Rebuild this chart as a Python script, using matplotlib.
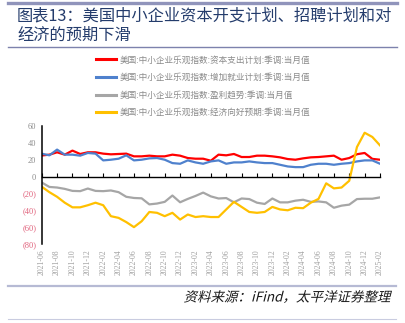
import matplotlib
matplotlib.use("Agg")
import matplotlib.pyplot as plt
from matplotlib.lines import Line2D
from matplotlib.textpath import TextPath
from matplotlib.patches import PathPatch
from matplotlib.font_manager import FontProperties
from matplotlib.transforms import Affine2D, IdentityTransform

plt.rcParams['font.family'] = ['Noto Sans CJK SC', 'DejaVu Sans']

# monthly dates, 2021-06 .. 2025-02
months = []
y, m = 2021, 6
while (y, m) <= (2025, 2):
    months.append('%d-%02d' % (y, m))
    m += 1
    if m > 12:
        y, m = y + 1, 1

capex = [25, 26, 28.8, 26, 30.8, 26.8, 28.8, 28.8, 27.2, 26.4, 26.8, 27.2, 24, 24, 24.8,
         24, 24, 26, 24.8, 22, 21.2, 21.2, 18.8, 26, 25.2, 26.8, 23.2, 23.2, 24.8, 24.8,
         24, 22.8, 20.8, 20, 21.6, 22.8, 23.2, 24, 24.8, 20, 22, 26.5, 28, 21, 20]
hiring = [27.2, 25.2, 32, 26, 26, 24.8, 28, 27.2, 19.2, 20, 21.2, 25.2, 19.2, 20, 21.6,
          22, 20, 16, 15.2, 19.2, 16.8, 15.2, 18, 19.2, 15.2, 16.8, 16.8, 18, 16.8, 16,
          16, 14, 12, 11.2, 11.2, 14, 15.2, 15.2, 14, 15.2, 16, 18, 19.2, 19.2, 15.2]
earnings = [-7, -12.3, -13, -14.6, -17, -17.3, -14.2, -17, -17.3, -16.5, -18.5, -24, -25.4,
            -25.8, -33, -32, -30, -22.5, -30.5, -26.5, -23, -19, -23.5, -26, -25.5, -30.5,
            -26, -26.7, -31, -32.5, -26, -30.6, -30.6, -28.6, -27.5, -30, -29.5, -30.6, -37,
            -34.5, -33.3, -26.7, -26.3, -26.3, -24.7]
economy = [-12, -18.5, -24, -31, -36.5, -36.5, -34, -31, -34, -47, -49, -54, -60, -53, -42,
           -43, -47, -43, -51, -45, -48, -47, -48, -48, -39, -30, -36, -42, -43, -42, -36,
           -39, -40, -37, -37.5, -31, -26.5, -8, -14, -13, -5, 35, 52, 47, 37]

names = ['美国:中小企业乐观指数:资本支出计划:季调:当月值',
         '美国:中小企业乐观指数:增加就业计划:季调:当月值',
         '美国:中小企业乐观指数:盈利趋势:季调:当月值',
         '美国:中小企业乐观指数:经济向好预期:季调:当月值']
colors = ['#ff0000', '#4f81cd', '#a6a6a6', '#ffc000']
yticks = [60, 40, 20, 0, -20, -40, -60, -80]

W, H = 406, 323
fig = plt.figure(figsize=(W / 100, H / 100), dpi=100)

def fx(px):
    return px / W

def fy(py):
    return 1 - py / H

# frame lines
fig.add_artist(Line2D([fx(8), fx(397)], [fy(2.5)] * 2, color='#9094bb', lw=2.4))
fig.add_artist(Line2D([fx(8), fx(397)], [fy(47)] * 2, color='#7d82ad', lw=1.0))
fig.add_artist(Line2D([fx(8), fx(396)], [fy(286)] * 2, color='#b6bad4', lw=1.6))
fig.add_artist(Line2D([fx(8), fx(396)], [fy(319)] * 2, color='#c9cce0', lw=0.8))

title_color = '#243c6c'
fig.text(fx(17), fy(15.5), '图表13：美国中小企业资本开支计划、招聘计划和对',
         fontsize=11.7, color=title_color, va='center', ha='left')
fig.text(fx(17), fy(35.5), '经济的预期下滑',
         fontsize=11.7, color=title_color, va='center', ha='left')

# slanted source note, right aligned (pixel coordinates, origin bottom-left)
src = TextPath((0, 0), '资料来源：iFind，太平洋证券整理', size=13.5,
               prop=FontProperties(family='Noto Sans CJK SC'))
ext = src.get_extents()
shear = Affine2D().skew_deg(14, 0)
right_px, base_px = 392, H - 301.5
tr = shear + Affine2D().translate(right_px - ext.x1 - 2, base_px)
fig.add_artist(PathPatch(tr.transform_path(src), transform=IdentityTransform(),
                         facecolor='#1a1a1a', edgecolor='none'))

ax = fig.add_axes([fx(41.7), fy(244), fx(380) - fx(41.7), fy(126) - fy(244)])
x = list(range(len(months)))
series = [capex, hiring, earnings, economy]
for vals, c, n in zip(series, colors, names):
    ax.plot(x, vals, color=c, lw=1.6, label=n, solid_joinstyle='round')

ax.set_xlim(0, len(months) - 1)
ax.set_ylim(-80, 60)
for s in ['top', 'right']:
    ax.spines[s].set_visible(False)
ax.spines['left'].set_linewidth(1.1)
ax.spines['bottom'].set_position(('data', 0))
ax.spines['bottom'].set_linewidth(1.0)
ax.set_xticks(x[::2])
ax.tick_params(axis='x', direction='in', length=3, width=0.8, labelbottom=False)

ylabels = [str(v) if v >= 0 else '(%d)' % -v for v in yticks]
ax.set_yticks(yticks, labels=ylabels)
ax.tick_params(axis='y', length=0, pad=4)
for lab, v in zip(ax.get_yticklabels(), yticks):
    lab.set_fontfamily('Liberation Serif')
    lab.set_fontsize(6)
    lab.set_color('#8c8c8c' if v >= 0 else '#e0607a')

sec = ax.secondary_xaxis('bottom')
sec.set_xticks(x[::2], labels=months[::2])
sec.tick_params(length=0, pad=4)
sec.spines['bottom'].set_visible(False)
for lab in sec.get_xticklabels():
    lab.set_rotation(90)
    lab.set_fontfamily('Liberation Serif')
    lab.set_fontsize(5.6)
    lab.set_color('#a0a0a0')

leg = fig.legend(loc='upper left', bbox_to_anchor=(fx(96), fy(55.5)), frameon=False,
                 fontsize=6.2, handlelength=2.3, handletextpad=0.4, labelspacing=1.0,
                 borderaxespad=0, borderpad=0)
for t in leg.get_texts():
    t.set_color('#8a8a8a')
for h in leg.get_lines():
    h.set_linewidth(2.2)

fig.savefig('out.png', dpi=100)
